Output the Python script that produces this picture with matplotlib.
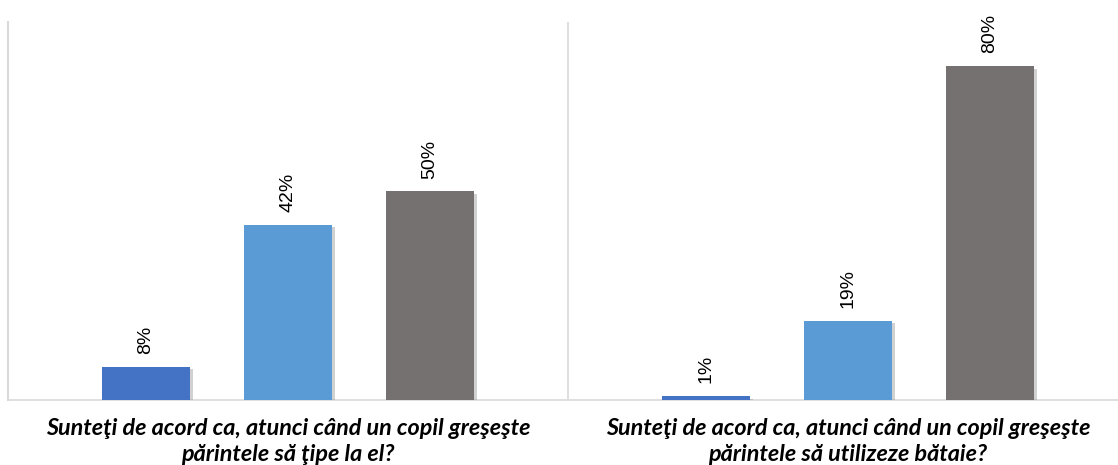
import matplotlib
matplotlib.use("Agg")
import matplotlib.pyplot as plt
import matplotlib.patheffects as pe
import numpy as np

questions = [
    "Sunteţi de acord ca, atunci când un copil greşeşte\npărintele să ţipe la el?",
    "Sunteţi de acord ca, atunci când un copil greşeşte\npărintele să utilizeze bătaie?",
]
series1 = [8, 1]
series2 = [42, 19]
series3 = [50, 80]
colors = ["#4472C4", "#5B9BD5", "#767171"]

W, H = 1118, 465
fig = plt.figure(figsize=(W / 100, H / 100), dpi=100)
left_px, right_px, top_px, bottom_px = 8, 1118, 22, 400
ax = fig.add_axes([left_px / W, 1 - bottom_px / H, (right_px - left_px) / W, (bottom_px - top_px) / H])

group_px = 560.0
ax.set_xlim(0, (right_px - left_px) / group_px)
ax.set_ylim(0, 90.5)

offsets = [0.2464, 0.5, 0.7536]
bw = 88 / group_px
shadow = [pe.SimplePatchShadow(offset=(2.5, -2), shadow_rgbFace="#999999", alpha=0.45), pe.Normal()]
for si, vals in enumerate([series1, series2, series3]):
    xs = np.arange(len(questions)) + offsets[si]
    bars = ax.bar(xs, vals, width=bw, color=colors[si], zorder=3)
    for b in bars:
        b.set_path_effects(shadow)
    for x, v in zip(xs, vals):
        ax.annotate(f"{v}%", (x, v), xytext=(0, 9), textcoords="offset points",
                    rotation=90, ha="center", va="bottom", fontsize=14,
                    family="Liberation Sans", color="#000000")

# separator between groups
ax.axvline(1.0, color="#D9D9D9", lw=1.2, zorder=1)

for s in ["top", "right"]:
    ax.spines[s].set_visible(False)
ax.spines["left"].set_color("#D9D9D9")
ax.spines["left"].set_linewidth(1.5)
ax.spines["bottom"].set_color("#D9D9D9")
ax.spines["bottom"].set_linewidth(1.2)
ax.set_yticks([])
ax.set_xticks(np.arange(len(questions)) + 0.5)
ax.set_xticklabels(questions, fontsize=16.8, fontweight="bold", fontstyle="italic",
                   family="Lato", linespacing=1.3)
ax.tick_params(axis="x", length=0, pad=13)

fig.savefig("out.png", dpi=100)
